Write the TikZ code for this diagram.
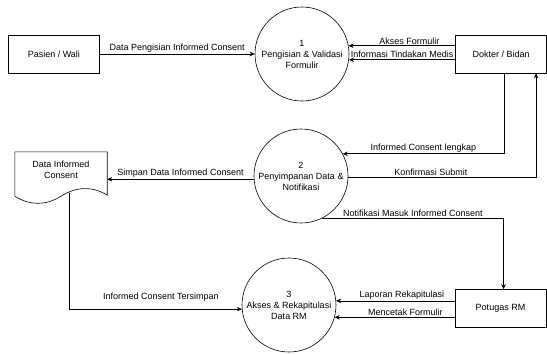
\documentclass[tikz,border=0pt]{standalone}
\usepackage{fontspec}
\setmainfont{Liberation Sans}
\usepackage{tikz}
\usetikzlibrary{shapes,arrows.meta,positioning}

\begin{document}
\begin{tikzpicture}[
			x=1pt, y=-1pt,
			font=\fontsize{9}{11}\selectfont,
			entity/.style={draw, line width=0.6pt, minimum width=91pt, minimum height=38pt, align=center},
			proc/.style={draw, circle, line width=0.6pt, minimum size=94pt, inner sep=0pt, align=center},
			lbl/.style={above, inner sep=1.5pt},
			arrow/.style={-{Stealth[length=5pt,width=4.5pt]}, line width=0.6pt}
		]
		\useasboundingbox (0,0) rectangle (547,354);

		% processes
		\node[proc] (p1) at (302,54) {1\\Pengisian \& Validasi\\Formulir};
		\node[proc] (p2) at (301,176) {2\\Penyimpanan Data \&\\Notifikasi};
		\node[proc] (p3) at (289,305) {3\\Akses \& Rekapitulasi\\Data RM};

		% external entities
		\node[entity, left=155pt of p1] (pasien) {Pasien / Wali};
		\node[entity, right=106pt of p1] (dokter) {Dokter / Bidan};
		\node[entity] (petugas) at (500.5,308.5) {Potugas RM};

		% data store
		\node[minimum width=92pt, minimum height=36pt, inner sep=0pt, align=center] (dataic) at (61,170) {Data Informed\\Consent};
		\draw[line width=0.6pt] (dataic.north west) -- (dataic.north east) -- ([yshift=-7pt]dataic.south east)
			.. controls +(-15,-9.5) and +(15,-9.5) .. ([yshift=-8pt]dataic.south)
			.. controls +(-15,9.5) and +(15,9.5) .. ([yshift=-8pt]dataic.south west) -- cycle;

		\draw[arrow] (pasien.east) -- (p1.west) node[lbl, midway] {Data Pengisian Informed Consent};
		\draw[arrow] (dokter.west |- p1.10) -- (p1.10) node[lbl, pos=0.43, inner sep=0.5pt] {Akses Formulir};
		\draw[arrow] (dokter.west |- p1.-7) -- (p1.-7) node[lbl, midway] {Informasi Tindakan Medis};

		\draw[arrow] ([xshift=3pt]dokter.south) |- (p2.28) node[lbl, pos=0.75] {Informed Consent lengkap};
		\draw[arrow] (p2.-2) -| ([xshift=35pt]dokter.south) node[lbl, pos=0.22] {Konfirmasi Submit};
		\draw[arrow] (p2.-63) -| ([xshift=3pt]petugas.north) node[lbl, pos=0.25] {Notifikasi Masuk Informed Consent};
		\draw[arrow] (p2.184) -- (p2.184 -| dataic.east) node[lbl, midway] {Simpan Data Informed Consent};

		\draw[arrow] ([xshift=8pt,yshift=-5pt]dataic.south) |- (p3.185) node[lbl, pos=0.766, yshift=6pt] {Informed Consent Tersimpan};
		\draw[arrow] (petugas.west |- p3.5) -- (p3.5) node[lbl, pos=0.445] {Laporan Rekapitulasi};
		\draw[arrow] (petugas.west |- p3.-15) -- (p3.-15) node[lbl, pos=0.41] {Mencetak Formulir};

	\end{tikzpicture}
\end{document}
